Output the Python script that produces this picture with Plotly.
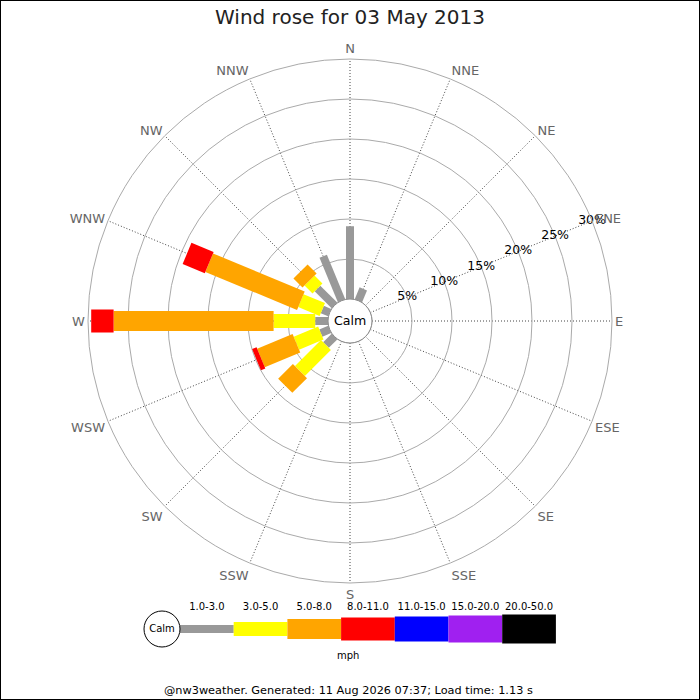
"""
Wind rose for 03 May 2013 (nw3weather), rebuilt with plotly.
Run: python3 plot.py
"""

import plotly.graph_objects as go

DIRECTIONS = ["N", "NNE", "NE", "ENE", "E", "ESE", "SE", "SSE",
              "S", "SSW", "SW", "WSW", "W", "WNW", "NW", "NNW"]
SPEED_BINS = ["1.0-3.0", "3.0-5.0", "5.0-8.0", "8.0-11.0",
              "11.0-15.0", "15.0-20.0", "20.0-50.0"]

# % of the day per direction (N .. NNW), one list per speed bin
FREQ_1_3 = [9.1, 1.6, 0, 0, 0, 0, 0, 0, 0, 0, 1.5, 1.2, 1.6, 1.0, 3.0, 6.0]
FREQ_3_5 = [0, 0, 0, 0, 0, 0, 0, 0, 0, 0, 4.6, 3.3, 5.2, 2.9, 1.4, 0]
FREQ_5_8 = [0, 0, 0, 0, 0, 0, 0, 0, 0, 0, 2.6, 4.8, 20.0, 12.4, 1.6, 0]
FREQ_8_11 = [0, 0, 0, 0, 0, 0, 0, 0, 0, 0, 0, 0.6, 2.8, 3.0, 0, 0]
FREQ_11_15 = [0, 0, 0, 0, 0, 0, 0, 0, 0, 0, 0, 0, 0, 0, 0, 0]
FREQ_15_20 = [0, 0, 0, 0, 0, 0, 0, 0, 0, 0, 0, 0, 0, 0, 0, 0]
FREQ_20_50 = [0, 0, 0, 0, 0, 0, 0, 0, 0, 0, 0, 0, 0, 0, 0, 0]

RINGS = [5, 10, 15, 20, 25, 30]
RING_LABEL_DIR = 67.5  # ENE, compass degrees

BIN_COLORS = ["#999999", "#FFFF00", "#FFA500", "#FF0000",
              "#0000FF", "#A020F0", "#000000"]
BAR_PX = [8, 14, 20, 23, 25, 27, 29]

TITLE = "Wind rose for 03 May 2013"
FOOTER = "@nw3weather. Generated: 11 Aug 2026 07:37; Load time: 1.13 s"
FONT = "DejaVu Sans"

# Геометрия (px)
W = H = 700
CX, CY = 350, 321
R_OUT = 262
R_CALM = 22
LEG_Y = 629
LEG_X0 = 180
LEG_STEP = 53.7
LEG_LEFT = 140
CALM_LEG_X = 162


def build():
    freqs = [FREQ_1_3, FREQ_3_5, FREQ_5_8, FREQ_8_11,
             FREQ_11_15, FREQ_15_20, FREQ_20_50]
    angles = [i * 22.5 for i in range(len(DIRECTIONS))]

    fig = go.Figure()

    # стопки по направлениям: каждая ступень — толстая линия вдоль луча
    base = [0.0] * len(DIRECTIONS)
    for b, vals in enumerate(freqs):
        for d, v in enumerate(vals):
            if v > 0:
                fig.add_trace(go.Scatterpolar(
                    r=[base[d], base[d] + v],
                    theta=[angles[d], angles[d]],
                    mode="lines",
                    line=dict(color=BIN_COLORS[b], width=BAR_PX[b]),
                    showlegend=False,
                    hovertemplate=f"{DIRECTIONS[d]} {SPEED_BINS[b]}: {v}%<extra></extra>",
                ))
                base[d] += v

    # подписи колец по лучу ENE
    fig.add_trace(go.Scatterpolar(
        r=RINGS, theta=[RING_LABEL_DIR] * len(RINGS),
        mode="text", text=[f"{r}%" for r in RINGS],
        textposition="middle center",
        textfont=dict(size=12.5, color="black", family=FONT),
        cliponaxis=False, showlegend=False, hoverinfo="skip",
    ))

    # легенда снизу — отдельная скрытая ось
    n = len(SPEED_BINS)
    for b in range(n):
        fig.add_trace(go.Scatter(
            x=[b, b + 1], y=[0, 0], mode="lines",
            line=dict(color=BIN_COLORS[b], width=BAR_PX[b]),
            xaxis="x", yaxis="y", showlegend=False, hoverinfo="skip",
            cliponaxis=False,
        ))
    fig.add_trace(go.Scatter(
        x=[(CALM_LEG_X - LEG_X0) / LEG_STEP], y=[0], mode="markers+text",
        marker=dict(size=36, color="white", line=dict(color="black", width=1)),
        text=["Calm"], textposition="middle center",
        textfont=dict(size=10, color="black", family=FONT),
        showlegend=False, hoverinfo="skip", cliponaxis=False,
    ))

    leg_right = LEG_X0 + n * LEG_STEP

    fig.update_layout(
        width=W, height=H,
        margin=dict(l=0, r=0, t=0, b=0),
        paper_bgcolor="white",
        plot_bgcolor="white",
        font=dict(family=FONT, color="black"),
        title=dict(text=TITLE, x=0.5, xanchor="center",
                   y=1 - 17 / H, yanchor="middle",
                   font=dict(size=20, color="#222222")),
        polar=dict(
            domain=dict(x=[(CX - R_OUT) / W, (CX + R_OUT) / W],
                        y=[(H - CY - R_OUT) / H, (H - CY + R_OUT) / H]),
            hole=R_CALM / R_OUT,
            bgcolor="white",
            angularaxis=dict(
                direction="clockwise", rotation=90,
                tickmode="array", tickvals=angles, ticktext=DIRECTIONS,
                showgrid=True, gridcolor="#444444", griddash="1px,2px", gridwidth=1,
                showline=True, linecolor="#aaaaaa", linewidth=1,
                ticks="", tickfont=dict(size=13, color="#666666"),
            ),
            radialaxis=dict(
                range=[0, RINGS[-1]], angle=22.5,
                tickmode="array", tickvals=RINGS,
                showticklabels=False,
                showgrid=True, gridcolor="#aaaaaa", gridwidth=1,
                showline=False, ticks="",
            ),
        ),
        xaxis=dict(
            domain=[LEG_LEFT / W, leg_right / W],
            range=[(LEG_LEFT - LEG_X0) / LEG_STEP, n],
            side="top", tickmode="array",
            tickvals=[b + 0.5 for b in range(n)], ticktext=SPEED_BINS,
            tickfont=dict(size=10, color="black"), ticks="",
            showgrid=False, zeroline=False, showline=False, fixedrange=True,
        ),
        yaxis=dict(
            domain=[(H - LEG_Y - 16) / H, (H - LEG_Y + 16) / H],
            range=[-1, 1], visible=False, fixedrange=True,
        ),
        shapes=[
            # кружок Calm в центре розы
            dict(type="circle", xref="paper", yref="paper",
                 x0=(CX - R_CALM) / W, x1=(CX + R_CALM) / W,
                 y0=(H - CY - R_CALM) / H, y1=(H - CY + R_CALM) / H,
                 line=dict(color="#888888", width=1), fillcolor="white"),
            # рамка
            dict(type="rect", xref="paper", yref="paper",
                 x0=0, x1=1, y0=0, y1=1,
                 line=dict(color="black", width=2)),
        ],
        annotations=[
            dict(text="Calm", x=CX / W, y=(H - CY) / H, xref="paper", yref="paper",
                 xanchor="center", yanchor="middle",
                 showarrow=False, font=dict(size=12.6, color="black")),
            dict(text="mph", x=348 / W, y=1 - 655 / H, xref="paper", yref="paper",
                 xanchor="center", yanchor="middle",
                 showarrow=False, font=dict(size=10, color="black")),
            dict(text=FOOTER, x=348 / W, y=1 - 690 / H, xref="paper", yref="paper",
                 xanchor="center", yanchor="middle",
                 showarrow=False, font=dict(size=11.3, color="black")),
        ],
    )
    return fig


if __name__ == "__main__":
    fig = build()
    # убираем стандартный отступ body, чтобы картинка легла в окно 700x700
    fig.write_html("out.html", config={"displayModeBar": False},
                   post_script="document.body.style.margin='0';")
